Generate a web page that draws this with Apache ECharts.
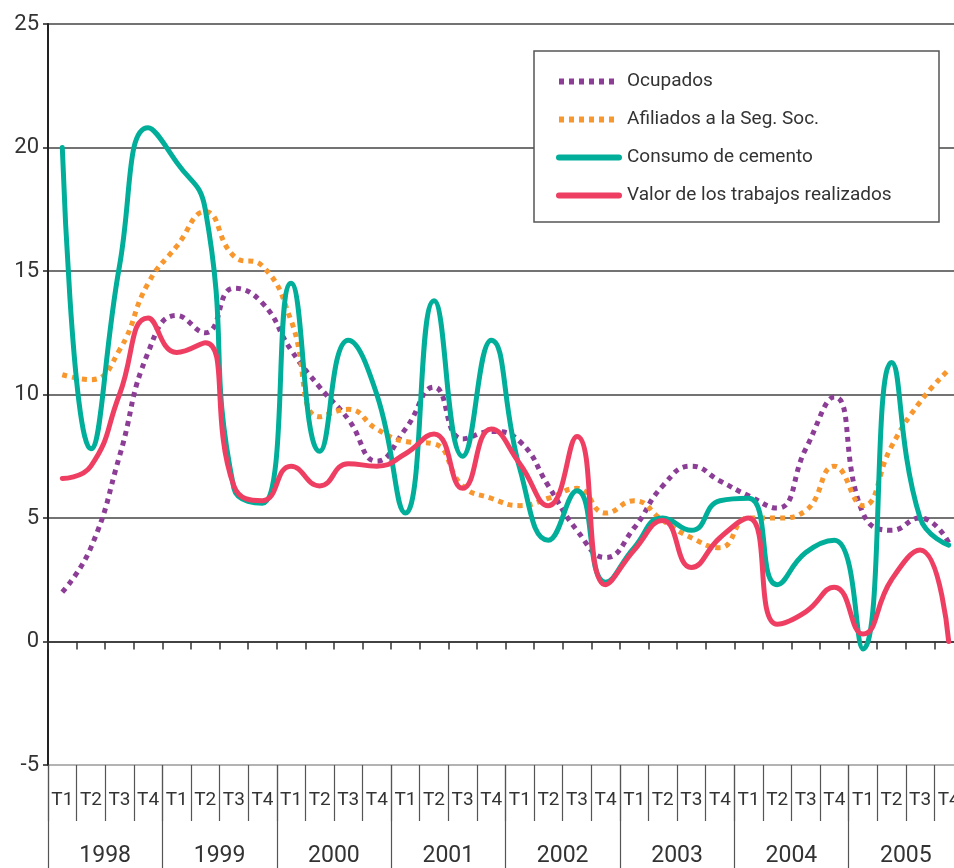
<!DOCTYPE html>
<html>
<head>
<meta charset="utf-8">
<script src="https://cdn.jsdelivr.net/npm/echarts@6/dist/echarts.min.js"></script>
<style>
  html, body { margin: 0; padding: 0; background: #fff; }
  #chart { width: 954px; height: 868px; }
</style>
</head>
<body>
<div id="chart"></div>
<script>
// Tasas de variación interanual (%) por trimestre, 1998–2005
const years = ['1998', '1999', '2000', '2001', '2002', '2003', '2004', '2005'];
const quarterLabels = ['T1', 'T2', 'T3', 'T4'];

const ocupados = [2.0, 3.8, 7.5, 11.7, 13.2, 12.5, 14.3, 13.7,
                  11.8, 10.3, 9.0, 7.3, 8.6, 10.3, 8.2, 8.5,
                  8.1, 6.3, 4.5, 3.4, 4.6, 6.3, 7.1, 6.5,
                  5.9, 5.4, 7.8, 9.9, 5.2, 4.5, 5.0, 4.0];

const afiliados = [10.8, 10.6, 11.8, 14.5, 16.0, 17.4, 15.6, 15.2,
                   13.0, 9.1, 9.4, 8.6, 8.1, 8.0, 6.3, 5.8,
                   5.5, 5.8, 6.2, 5.2, 5.7, 4.9, 4.2, 3.8,
                   5.0, 5.0, 5.3, 7.1, 5.5, 7.9, 9.7, 11.0];

const cemento = [20.0, 7.8, 15.2, 20.8, 19.4, 17.5, 6.2, 5.6,
                 14.5, 7.7, 12.2, 10.0, 5.2, 13.8, 7.5, 12.2,
                 7.0, 4.1, 6.1, 2.4, 3.8, 5.0, 4.5, 5.7,
                 5.8, 2.3, 3.6, 4.1, -0.3, 11.3, 5.0, 3.9];

const trabajos = [6.6, 7.1, 10.0, 13.1, 11.7, 12.1, 6.3, 5.7,
                  7.1, 6.3, 7.2, 7.1, 7.6, 8.4, 6.2, 8.6,
                  7.2, 5.5, 8.3, 2.3, 3.7, 4.9, 3.0, 4.2,
                  5.0, 0.7, 1.2, 2.2, 0.3, 2.5, 3.7, 0.0];

// One category per quarter: "1998 T1", "1998 T2", ...
const periods = [];
years.forEach(y => quarterLabels.forEach(q => periods.push(y + ' ' + q)));

const FONT = 'Roboto, "Noto Sans", sans-serif';
const TEXT = '#333';

const dotted = (color) => ({ color: color, width: 5, type: [5, 5], cap: 'butt' });
const solid = (color) => ({ color: color, width: 5, cap: 'round', join: 'round' });

function lineSeries(name, data, lineStyle) {
  return {
    name: name,
    type: 'line',
    data: data,
    xAxisIndex: 0,
    smooth: 0.5,
    symbol: 'circle',
    showSymbol: false,
    itemStyle: { color: lineStyle.color },
    lineStyle: lineStyle,
    emphasis: { disabled: true },
    animation: false
  };
}

const chart = echarts.init(document.getElementById('chart'), null, { renderer: 'canvas' });

chart.setOption({
  animation: false,
  textStyle: { fontFamily: FONT },
  grid: { left: 48, top: 24, width: 915, bottom: 103, containLabel: false, outerBoundsMode: 'none' },
  graphic: [{
    type: 'rect',
    z: 3,
    shape: { x: 534, y: 51, width: 405, height: 171 },
    style: { fill: '#fff', stroke: '#555', lineWidth: 1.5 }
  }],
  legend: {
    z: 4,
    orient: 'vertical',
    left: 556,
    top: 72,
    itemWidth: 60,
    itemHeight: 14,
    itemGap: 19,
    padding: 0,
    itemStyle: { opacity: 0 },
    lineStyle: { width: 6 },
    textStyle: { fontFamily: FONT, fontSize: 19, color: TEXT, padding: [0, 0, 0, 3] },
    data: ['Ocupados', 'Afiliados a la Seg. Soc.', 'Consumo de cemento', 'Valor de los trabajos realizados']
  },
  yAxis: {
    type: 'value',
    min: -5,
    max: 25,
    interval: 5,
    axisLine: { show: true, onZero: false, lineStyle: { color: '#222', width: 2 } },
    axisTick: { show: true, length: 5, lineStyle: { color: '#222', width: 1.5 } },
    axisLabel: { fontFamily: FONT, fontSize: 22, color: TEXT, margin: 9 },
    splitLine: {
      show: true,
      lineStyle: { color: ['#9a9a9a', '#444', '#444', '#444', '#444', '#444', '#444'], width: 1.5 }
    }
  },
  xAxis: [
    {
      // Eje en el valor cero, con marcas entre trimestres
      type: 'category',
      data: periods,
      position: 'bottom',
      boundaryGap: true,
      axisLine: { show: true, onZero: true, lineStyle: { color: '#333', width: 1.5 } },
      axisTick: { show: true, interval: 0, length: 8, lineStyle: { color: '#333', width: 1.5 } },
      axisLabel: { show: false },
      splitLine: { show: false }
    },
    {
      // Fila de trimestres
      type: 'category',
      data: periods,
      position: 'bottom',
      boundaryGap: true,
      axisLine: { show: false, onZero: false },
      axisTick: { show: true, interval: 0, length: 56, lineStyle: { color: '#555', width: 1.2 } },
      axisLabel: {
        interval: 0, margin: 26, fontFamily: FONT, fontSize: 19, color: TEXT,
        formatter: v => v.split(' ')[1]
      },
      splitLine: { show: false }
    },
    {
      // Fila de años
      type: 'category',
      data: years,
      position: 'bottom',
      boundaryGap: true,
      axisLine: { show: false, onZero: false },
      axisTick: { show: true, interval: 0, length: 120, lineStyle: { color: '#555', width: 1.2 } },
      axisLabel: { interval: 0, margin: 80, fontFamily: FONT, fontSize: 23, color: TEXT },
      splitLine: { show: false }
    }
  ],
  series: [
    lineSeries('Ocupados', ocupados, dotted('#8C3D96')),
    lineSeries('Afiliados a la Seg. Soc.', afiliados, dotted('#F7972E')),
    lineSeries('Consumo de cemento', cemento, solid('#00AE9A')),
    lineSeries('Valor de los trabajos realizados', trabajos, solid('#EE3F63'))
  ]
});
</script>
</body>
</html>
